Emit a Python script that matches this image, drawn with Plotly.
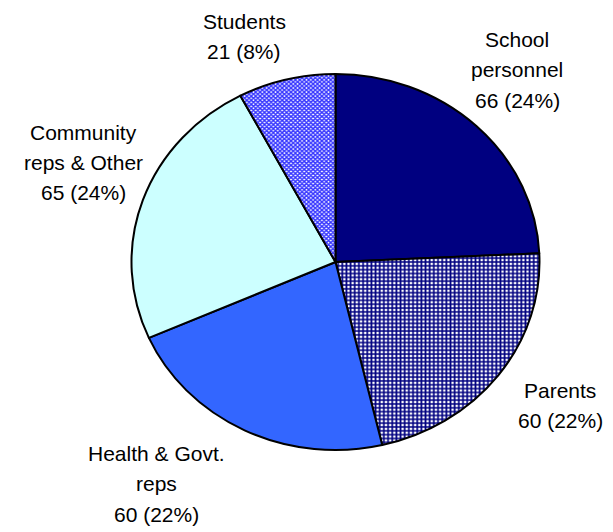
import plotly.graph_objects as go

categories = ["School personnel", "Parents", "Health & Govt. reps", "Community reps & Other", "Students"]
values = [66, 60, 60, 65, 21]
label_lines = [["School", "personnel"], ["Parents"], ["Health & Govt.", "reps"], ["Community", "reps & Other"], ["Students"]]

colors = ["#000080", "#ffffff", "#3366FF", "#CCFFFF", "#ffffff"]
patterns = ["", "+", "", "", "x"]
pattern_fg = ["#000080", "#000080", "#3366FF", "#CCFFFF", "#3333FF"]
pattern_size = [4, 4, 4, 4, 3]
pattern_solidity = [0.5, 0.65, 0.5, 0.5, 0.7]

W, H = 613, 532
cx, cy, r = 335.5, 262, 196

fig = go.Figure(go.Pie(
    labels=categories,
    values=values,
    sort=False,
    direction="clockwise",
    rotation=0,
    textinfo="none",
    hoverinfo="skip",
    showlegend=False,
    marker=dict(
        colors=colors,
        line=dict(color="black", width=2),
        pattern=dict(shape=patterns, fgcolor=pattern_fg, bgcolor="#ffffff",
                     size=pattern_size, solidity=pattern_solidity, fillmode="replace"),
    ),
    domain=dict(x=[(cx - r) / W, (cx + r) / W], y=[(H - (cy + r)) / H, (H - (cy - r)) / H]),
))

# label block positions (center x, first line center y) in pixels
label_pos = [(517, 39), (560, 390), (156, 453), (83, 132), (244, 21)]
line_pitch = 30.5
total = sum(values)
annotations = []
for lines, v, (lx, ly) in zip(label_lines, values, label_pos):
    all_lines = lines + [f"{v} ({round(v / total * 100)}%)"]
    for i, t in enumerate(all_lines):
        annotations.append(dict(
            text=t, x=lx / W, y=1 - (ly + i * line_pitch) / H,
            xref="paper", yref="paper", xanchor="center", yanchor="middle",
            showarrow=False, font=dict(family="Liberation Sans, Arial", size=21, color="black"),
        ))

fig.update_layout(
    width=W, height=H,
    margin=dict(l=0, r=0, t=0, b=0),
    paper_bgcolor="white", plot_bgcolor="white",
    annotations=annotations,
)

SX, SY = 204 / r, 188 / r
post = """
document.body.style.margin = '0';
document.body.style.padding = '0';
document.body.style.overflow = 'hidden';
var gd = document.getElementById('{plot_id}');
function stretchPie(){
  try {
    var cd = gd.calcdata[0][0];
    var x = cd.cx, y = cd.cy;
    var t = 'translate(' + x + ',' + y + ') scale(SXV,SYV) translate(' + (-x) + ',' + (-y) + ')';
    gd.querySelectorAll('.pielayer path.surface').forEach(function(p){
      p.setAttribute('transform', t);
      p.style.vectorEffect = 'non-scaling-stroke';
    });
  } catch(e) {}
}
stretchPie();
""".replace("SXV", "%.5f" % SX).replace("SYV", "%.5f" % SY)

fig.write_html("out.html", post_script=post, config={"displayModeBar": False, "staticPlot": True})
